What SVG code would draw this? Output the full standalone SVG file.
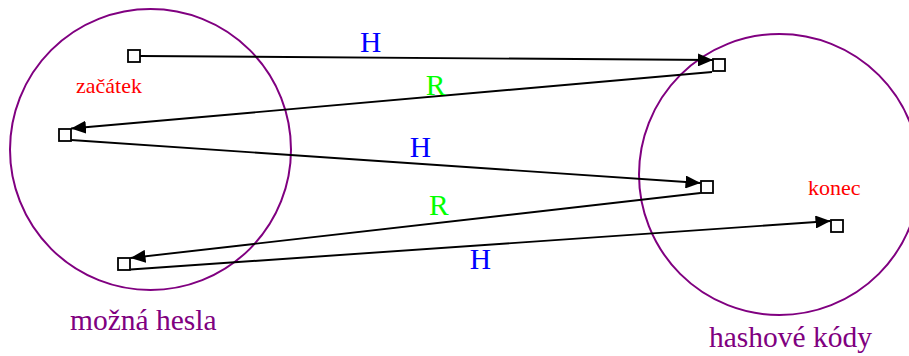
<svg xmlns="http://www.w3.org/2000/svg" width="909" height="356" viewBox="0 0 909 356">
<defs>
<style>
.set{fill:none;stroke:#800080;stroke-width:2}
.box{fill:#fff;stroke:#000;stroke-width:1.8}
.edge{stroke:#000;stroke-width:1.9;fill:none;marker-end:url(#ah)}
.t{font-family:"Liberation Serif","Times New Roman",serif}
.big{font-size:29.5px}
.small{font-size:22px;fill:#f00}
.H{fill:#00f}
.R{fill:#0f0}
.lab{fill:#800080}
</style>
<marker id="ah" viewBox="0 0 15 13" refX="15" refY="6.5" markerWidth="15" markerHeight="13" markerUnits="userSpaceOnUse" orient="auto">
<path d="M0,0 L15,6.5 L0,13 z" fill="#000"/>
</marker>
</defs>
<rect width="909" height="356" fill="#fff"/>
<g id="mozna-hesla">
<circle class="set" cx="150.5" cy="149.5" r="140.5"/>
<text class="t big lab" x="70" y="330">možná hesla</text>
</g>
<g id="hashove-kody">
<circle class="set" cx="779.5" cy="174.5" r="140.5"/>
<text class="t big lab" x="709" y="347">hashové kódy</text>
</g>
<g id="connectors">
<line class="edge" x1="140" y1="56" x2="713" y2="60"/>
<line class="edge" x1="712" y1="72" x2="71" y2="128.5"/>
<line class="edge" x1="71" y1="140" x2="700.5" y2="183"/>
<line class="edge" x1="700.5" y1="193" x2="130.5" y2="258"/>
<line class="edge" x1="130.5" y1="269.5" x2="830.5" y2="221"/>
<text class="t big H" x="370.7" y="51.7" text-anchor="middle">H</text>
<text class="t big R" x="435.5" y="95" text-anchor="middle">R</text>
<text class="t big H" x="420.5" y="156.7" text-anchor="middle">H</text>
<text class="t big R" x="438.8" y="215" text-anchor="middle">R</text>
<text class="t big H" x="480.3" y="269.3" text-anchor="middle">H</text>
</g>
<g id="start"><rect class="box" x="128" y="50" width="12" height="12"/><text class="t small" x="76" y="93">začátek</text></g>
<g id="h1"><rect class="box" x="713" y="59" width="12" height="12"/></g>
<g id="p2"><rect class="box" x="59" y="129" width="12" height="12"/></g>
<g id="h2"><rect class="box" x="701" y="181" width="12" height="12"/></g>
<g id="p3"><rect class="box" x="118" y="258" width="12" height="12"/></g>
<g id="end"><rect class="box" x="831" y="220" width="12" height="12"/><text class="t small" x="808" y="195">konec</text></g>
</svg>
